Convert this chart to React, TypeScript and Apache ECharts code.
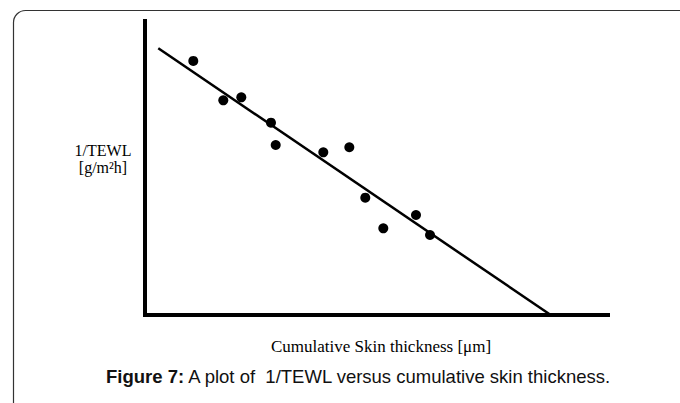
import React, { useEffect, useRef } from "react";
import * as echarts from "echarts";

const thickness: number[] = [10.43, 16.91, 20.8, 27.21, 28.23, 38.51, 44.13, 47.58, 51.47, 58.53, 61.56];
const invTewl: number[] = [86.4, 72.98, 74.0, 65.35, 57.75, 55.26, 56.97, 39.8, 29.37, 33.9, 27.09];

// Fitted regression line end points
const fitX: number[] = [2.87, 87.47];
const fitY: number[] = [90.7, 0];

const yLabelLines: string[] = ["1/TEWL", "[g/m²h]"];
const xLabel = "Cumulative Skin thickness [μm]";
const captionBold = "Figure 7:";
const captionRest = " A plot of  1/TEWL versus cumulative skin thickness.";

export default function App() {
  const ref = useRef<HTMLDivElement>(null);
  useEffect(() => {
    document.body.style.margin = "0";
    if (!ref.current) return;
    const chart = echarts.init(ref.current, null, { renderer: "svg" });
    const scatterData = thickness.map((x, i) => [x, invTewl[i]]);
    const lineData = fitX.map((x, i) => [x, fitY[i]]);
    const serif = '"Liberation Serif", "Times New Roman", serif';
    const sans = '"Liberation Sans", Arial, sans-serif';
    chart.setOption({
      animation: false,
      backgroundColor: "#ffffff",
      grid: { left: 145, top: 21, width: 463, height: 293.5 },
      xAxis: {
        type: "value",
        min: 0,
        max: 100,
        axisLine: { show: true, lineStyle: { color: "#000", width: 4, cap: "square" } },
        axisTick: { show: false },
        axisLabel: { show: false },
        splitLine: { show: false },
      },
      yAxis: {
        type: "value",
        min: 0,
        max: 100,
        axisLine: { show: true, lineStyle: { color: "#000", width: 4, cap: "square" } },
        axisTick: { show: false },
        axisLabel: { show: false },
        splitLine: { show: false },
      },
      series: [
        {
          type: "line",
          data: lineData,
          symbol: "none",
          lineStyle: { color: "#000", width: 2.5 },
          silent: true,
        },
        {
          type: "scatter",
          data: scatterData,
          symbol: "circle",
          symbolSize: 10,
          itemStyle: { color: "#000", opacity: 1 },
        },
      ],
      graphic: [
        {
          type: "rect",
          shape: { x: 13.5, y: 10.5, width: 720, height: 450, r: [12, 0, 0, 0] },
          style: { fill: "none", stroke: "#333", lineWidth: 1.2 },
          silent: true,
        },
        {
          type: "text",
          x: 103,
          y: 150,
          style: { text: yLabelLines[0], font: `16px ${serif}`, fill: "#000", textAlign: "center", textVerticalAlign: "middle" },
        },
        {
          type: "text",
          x: 103,
          y: 167,
          style: { text: yLabelLines[1], font: `16px ${serif}`, fill: "#000", textAlign: "center", textVerticalAlign: "middle" },
        },
        {
          type: "text",
          x: 381,
          y: 346,
          style: { text: xLabel, font: `17px ${serif}`, fill: "#000", textAlign: "center", textVerticalAlign: "middle" },
        },
        {
          type: "text",
          x: 106,
          y: 376.5,
          style: {
            text: `{b|${captionBold}}{r|${captionRest}}`,
            font: `18.5px ${sans}`,
            fill: "#111",
            textAlign: "left",
            textVerticalAlign: "middle",
            rich: {
              b: { fontFamily: sans, fontSize: 18.5, fontWeight: "bold", fill: "#111" },
              r: { fontFamily: sans, fontSize: 18.5, fill: "#111" },
            },
          },
        },
      ],
    });
    return () => chart.dispose();
  }, []);
  return <div ref={ref} style={{ width: 680, height: 403 }} />;
}
